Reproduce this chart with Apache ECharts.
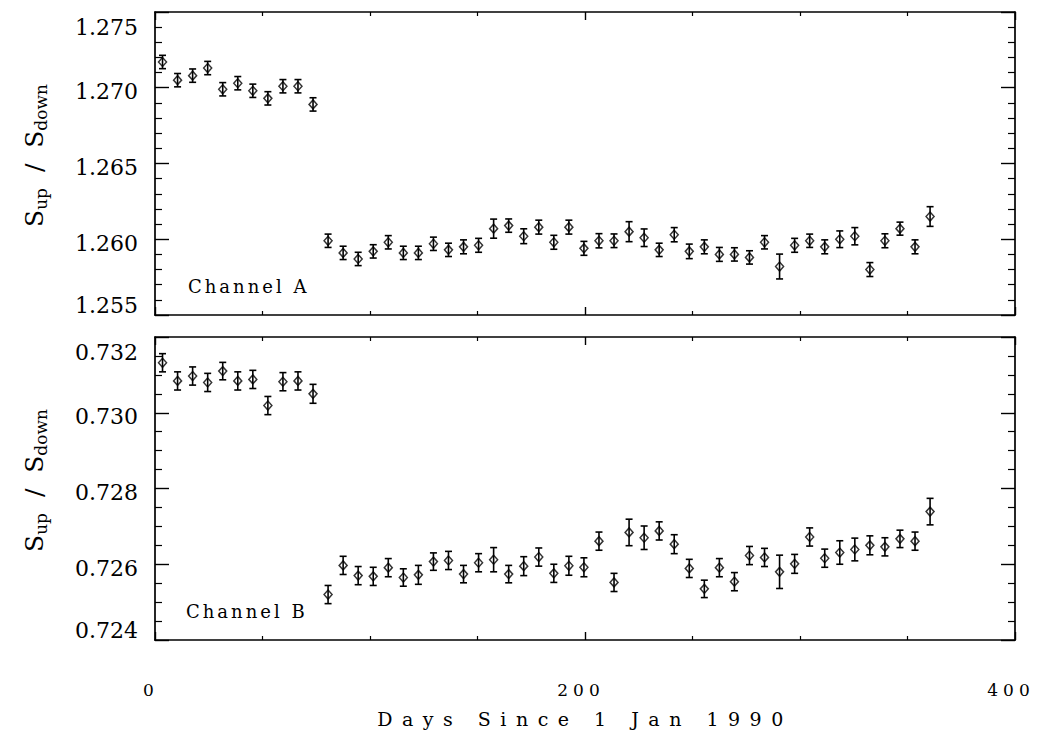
<!DOCTYPE html>
<html><head><meta charset="utf-8">
<script src="https://cdn.jsdelivr.net/npm/echarts@6/dist/echarts.min.js"></script>
<style>html,body{margin:0;padding:0;background:#fff}#c{width:1037px;height:742px}</style>
</head><body><div id="c"></div>
<script>
// ---- data ----
const days = [3.5,10.5,17.5,24.5,31.5,38.5,45.5,52.5,59.5,66.5,73.5,80.5,87.5,94.5,101.5,108.5,115.5,122.5,129.5,136.5,
  143.5,150.5,157.5,164.5,171.5,178.5,185.5,192.5,199.5,206.5,213.5,220.5,227.5,234.5,241.5,248.5,255.5,262.5,269.5,
  276.5,283.5,290.5,297.5,304.5,311.5,318.5,325.5,332.5,339.5,346.5,353.5,360.5];
const chanA = [1.2717,1.2705,1.2708,1.2713,1.2699,1.2703,1.2698,1.2693,1.2701,1.2701,1.2689,
  1.2599,1.2591,1.2587,1.2592,1.2598,1.2591,1.2591,1.2597,1.2593,
  1.2595,1.2596,1.2607,1.2609,1.2602,1.2608,1.2598,1.2608,1.2594,1.2599,1.2599,1.2605,1.2601,1.2593,1.2603,1.2592,1.2595,1.2590,1.2590,
  1.2588,1.2598,1.2582,1.2596,1.2599,1.2595,1.2600,1.2602,1.2580,1.2599,1.2607,1.2595,1.2615];
const errA = [0.00044,0.00044,0.00044,0.00044,0.00044,0.00044,0.00044,0.00044,0.00044,0.00044,0.00044,
  0.00044,0.00044,0.00044,0.00044,0.00044,0.00044,0.00044,0.00044,0.00044,
  0.00046,0.00046,0.00063,0.00044,0.00049,0.00046,0.00046,0.00046,0.00046,0.00047,0.00045,0.00066,0.00058,0.00044,0.00047,0.00048,0.00046,0.00046,0.00044,
  0.00044,0.00044,0.00082,0.00046,0.00044,0.00046,0.00055,0.00057,0.00046,0.00046,0.00043,0.00046,0.00065];
const chanB = [0.73132,0.73084,0.73097,0.73080,0.73110,0.73084,0.73088,0.73019,0.73082,0.73084,0.73050,
  0.72520,0.72597,0.72570,0.72568,0.72591,0.72565,0.72572,0.72607,0.72610,
  0.72574,0.72604,0.72612,0.72574,0.72595,0.72619,0.72576,0.72596,0.72592,0.72661,0.72552,0.72684,0.72670,0.72688,0.72653,0.72589,0.72535,0.72591,0.72554,
  0.72623,0.72618,0.72580,0.72601,0.72672,0.72616,0.72631,0.72639,0.72650,0.72646,0.72667,0.72661,0.72739];
const errB = [0.00024,0.00024,0.00024,0.00024,0.00023,0.00024,0.00024,0.00024,0.00024,0.00024,0.00025,
  0.00024,0.00024,0.00024,0.00024,0.00024,0.00023,0.00025,0.00023,0.00024,
  0.00023,0.00024,0.00032,0.00023,0.00025,0.00024,0.00024,0.00025,0.00025,0.00024,0.00024,0.00035,0.00031,0.00024,0.00025,0.00024,0.00023,0.00024,0.00024,
  0.00024,0.00024,0.00044,0.00025,0.00024,0.00024,0.00031,0.00030,0.00025,0.00024,0.00023,0.00024,0.00035];
const xRange = [0, 400];
const xStep = 200;
const yRangeA = [1.255, 1.275];
const yStepA = 0.005;
const yRangeB = [0.724, 0.732];
const yStepB = 0.002;
const panelLabels = ['Channel A', 'Channel B'];
const xTitle = 'Days Since 1 Jan 1990';

// ---- chart ----
const SERIF = '"DejaVu Serif", "Liberation Serif", serif';
const chart = echarts.init(document.getElementById('c'), null, {renderer: 'svg'});

function yLabelFmt(range) {
  return function (v) {
    const t = v.toFixed(3);
    if (Math.abs(v - range[1]) < 1e-9) return '{top|' + t + '}';
    if (Math.abs(v - range[0]) < 1e-9) return '{bot|' + t + '}';
    return '{mid|' + t + '}';
  };
}
const yRich = {
  top: {fontFamily: SERIF, fontSize: 22, color: '#000', padding: [30, 0, 0, 0]},
  bot: {fontFamily: SERIF, fontSize: 22, color: '#000', padding: [0, 0, 20, 0]},
  mid: {fontFamily: SERIF, fontSize: 22, color: '#000', padding: [8, 0, 0, 0]}
};
const line = {show: true, onZero: false, lineStyle: {color: '#000', width: 1.7}};

function xAx(grid, pos, labels) {
  return {
    type: 'value', gridIndex: grid, position: pos, min: xRange[0], max: xRange[1], interval: xStep,
    axisLine: line,
    axisTick: {show: true, inside: true, length: 8, lineStyle: {color: '#000', width: 1.4}},
    minorTick: {show: true, splitNumber: 4, length: 4, lineStyle: {color: '#000', width: 1.2}},
    splitLine: {show: false},
    axisLabel: {show: labels, margin: 41, color: '#000', fontFamily: SERIF, fontSize: 17},
    name: labels ? xTitle : '', nameLocation: 'middle', nameGap: 69,
    nameTextStyle: {fontFamily: SERIF, fontSize: 19, color: '#000'}
  };
}
function yAx(grid, pos, range, step, minor, labels) {
  return {
    type: 'value', gridIndex: grid, position: pos, min: range[0], max: range[1], interval: step,
    axisLine: line,
    axisTick: {show: true, inside: true, length: 14, lineStyle: {color: '#000', width: 1.4}},
    minorTick: {show: true, splitNumber: minor, length: 7, lineStyle: {color: '#000', width: 1.2}},
    splitLine: {show: false},
    axisLabel: {show: labels, margin: 17, formatter: yLabelFmt(range), rich: yRich},
    name: labels ? '{s|S}{sub|up}{s|  /  S}{sub|down}' : '',
    nameLocation: 'middle', nameGap: 106, nameRotate: 90,
    nameTextStyle: {
      padding: [0, 0, 0, 16],
      rich: {
        s: {fontFamily: SERIF, fontSize: 25, color: '#000', lineHeight: 30},
        sub: {fontFamily: SERIF, fontSize: 17, color: '#000', lineHeight: 16, verticalAlign: 'bottom'}
      }
    }
  };
}

function errItem(params, api) {
  const x = api.value(0), lo = api.value(1), hi = api.value(2);
  const p1 = api.coord([x, hi]), p2 = api.coord([x, lo]);
  const w = 3.5;
  const st = {stroke: '#000', lineWidth: 1.6};
  return {type: 'group', children: [
    {type: 'line', shape: {x1: p1[0], y1: p1[1], x2: p2[0], y2: p2[1]}, style: st},
    {type: 'line', shape: {x1: p1[0] - w, y1: p1[1], x2: p1[0] + w, y2: p1[1]}, style: st},
    {type: 'line', shape: {x1: p2[0] - w, y1: p2[1], x2: p2[0] + w, y2: p2[1]}, style: st}
  ]};
}
function errSeries(xi, yi, vals, errs) {
  return {type: 'custom', xAxisIndex: xi, yAxisIndex: yi, renderItem: errItem, silent: true,
    encode: {x: 0, y: [1, 2]},
    data: days.map((d, i) => [d, vals[i] - errs[i], vals[i] + errs[i]])};
}
function ptSeries(xi, yi, vals) {
  return {type: 'scatter', xAxisIndex: xi, yAxisIndex: yi, symbol: 'diamond', symbolSize: [8, 9],
    itemStyle: {color: 'rgba(0,0,0,0)', borderColor: '#000', borderWidth: 1.5},
    data: days.map((d, i) => [d, vals[i]])};
}

chart.setOption({
  animation: false,
  backgroundColor: '#fff',
  grid: [
    {left: 155, right: 22, top: 12, height: 303},
    {left: 155, right: 22, top: 337, height: 303}
  ],
  xAxis: [xAx(0, 'bottom', false), xAx(0, 'top', false), xAx(1, 'bottom', true), xAx(1, 'top', false)],
  yAxis: [yAx(0, 'left', yRangeA, yStepA, 5, true), yAx(0, 'right', yRangeA, yStepA, 5, false),
          yAx(1, 'left', yRangeB, yStepB, 4, true), yAx(1, 'right', yRangeB, yStepB, 4, false)],
  series: [
    errSeries(0, 0, chanA, errA), ptSeries(0, 0, chanA),
    errSeries(2, 2, chanB, errB), ptSeries(2, 2, chanB)
  ],
  graphic: [
    {type: 'text', left: 188, top: 277, style: {text: panelLabels[0], fontFamily: SERIF, fontSize: 18, fill: '#000'}},
    {type: 'text', left: 186, top: 602, style: {text: panelLabels[1], fontFamily: SERIF, fontSize: 18, fill: '#000'}}
  ]
});

const xLabelSet = new Set(['0', '200', '400']);
function spacing() {
  document.querySelectorAll('#c svg text').forEach(t => {
    const s = t.textContent;
    if (s === xTitle) t.setAttribute('letter-spacing', '9.5');
    else if (panelLabels.indexOf(s) >= 0) t.setAttribute('letter-spacing', '3');
    else if (xLabelSet.has(s)) { t.setAttribute('letter-spacing', '5'); t.setAttribute('dx', '-4'); }
  });
}
chart.on('finished', spacing);
setTimeout(spacing, 30);
setTimeout(spacing, 300);
</script>
</body></html>
